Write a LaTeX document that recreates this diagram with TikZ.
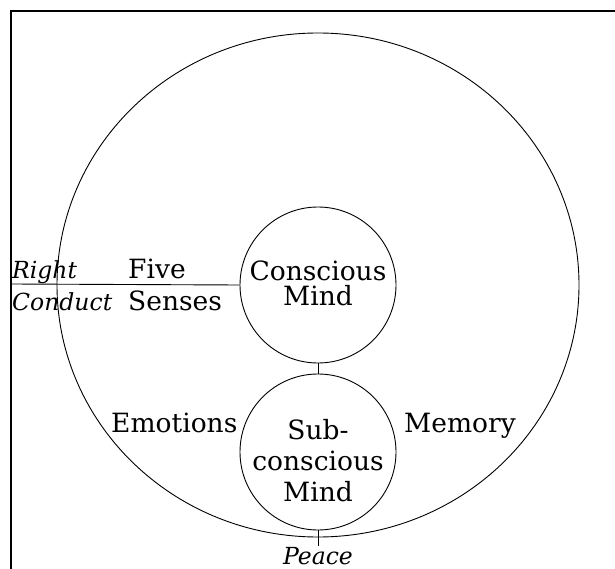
\documentclass[tikz,border=0pt]{standalone}
\usepackage{fontspec}
\setmainfont{DejaVu Serif}
\usetikzlibrary{calc}

\tikzset{
    mind/.style = {draw, circle, line width=0.9pt, minimum size=156pt, inner sep=0pt},
    word/.style = {font=\fontsize{26.5}{26}\selectfont, inner sep=0pt},
    slant/.style = {word, font=\fontsize{23.5}{26}\selectfont\itshape}
}

\begin{document}
\begin{tikzpicture}[x = 1pt, y = -1pt]
            \useasboundingbox (0,0) rectangle (615,569);
            % frame and outer circle
            \draw[line width=1.4pt] (11,569) -- (11,11) -- (615,11);
            \draw[line width=0.9pt] (318,285) ellipse [x radius=261, y radius=252];
            % the two minds
            \node[mind] (conscious) at (318,285) {};
            \node[mind] (subconscious) at (318,452) {};
            \node[word, align=center] (consciousText) at (318,283) {Conscious\\[-1pt]Mind};
            \node[word, align=center, text depth=0pt] (subText) at ($(subconscious)+(0,8)$)
                {Sub-\\[5pt]conscious\\[5pt]Mind};
            % labels
            \node[slant, anchor=base west] (right) at (12,278) {Right};
            \node[slant, anchor=base west] (conduct) at (12,310) {Conduct};
            \node[word, anchor=base west] (five) at (128,278) {Five};
            \node[word, anchor=base west] (senses) at (128,310) {Senses};
            \node[word, anchor=base west] (emotions) at (111,432) {Emotions};
            \node[word, anchor=base west] (memory) at (404,432) {Memory};
            \node[slant, anchor=base] (peace) at (318,564) {Peace};
            % connectors
            \coordinate (edge) at (11,284);
            \coordinate (peaceTop) at (318,546);
            \draw[line width=0.9pt] (edge) -- (conscious.west);
            \draw[line width=0.9pt] (conscious.south) -- (subconscious.north);
            \draw[line width=0.9pt] (subconscious.south) -- (peaceTop);
        \end{tikzpicture}
\end{document}
